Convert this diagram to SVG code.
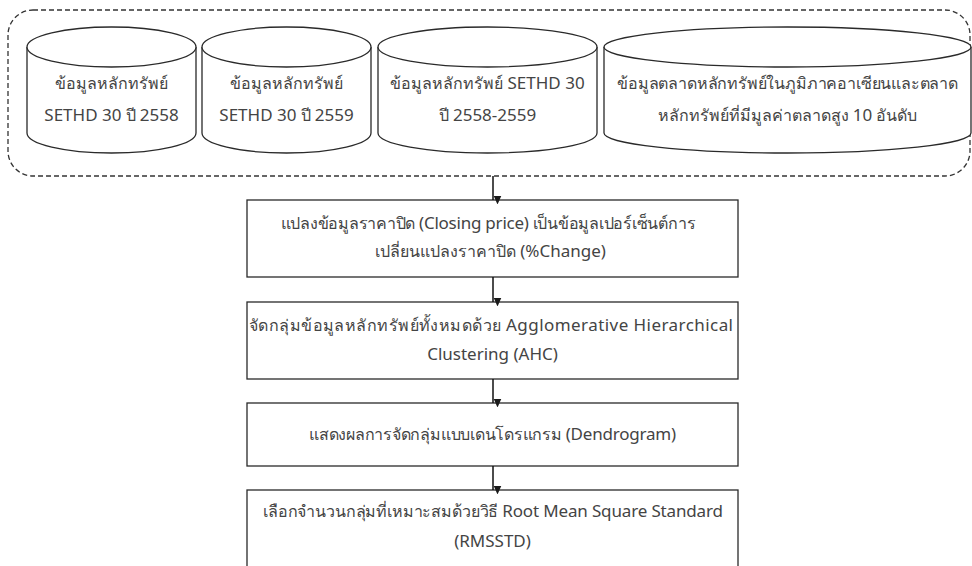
<svg xmlns="http://www.w3.org/2000/svg" width="972" height="566" viewBox="0 0 972 566">
<defs>
<marker id="arr" markerWidth="8" markerHeight="9" refX="4" refY="9" orient="auto-start-reverse" markerUnits="userSpaceOnUse" viewBox="0 0 8 9">
<path d="M0,0 L8,0 L4,9 Z" fill="#1a1a1a" transform="rotate(-90 4 4.5)"/>
</marker>
</defs>
<style>
.t{font-family:"Noto Sans","Liberation Sans",sans-serif;font-size:16px;fill:#444;text-anchor:middle}
.l{font-size:17px}
.s{fill:#fff;stroke:#2a2a2a;stroke-width:1.3}
.c{stroke:#111;stroke-width:1.5;fill:none}
</style>
<rect x="0" y="0" width="972" height="566" fill="#fff"/>
<g id="group">
<rect x="8" y="10" width="962" height="166" rx="25" ry="25" fill="none" stroke="#333" stroke-width="1.3" stroke-dasharray="5,3"/>
</g>
<g id="cyl1">
<path class="s" d="M27,47 A84.5,20 0 0 1 196,47 L196,133 A84.5,20 0 0 1 27,133 Z"/>
<path class="s" fill="none" d="M27,47 A84.5,20 0 0 0 196,47"/>
<text class="t" x="111.5" y="89">ข้อมูลหลักทรัพย์</text>
<text class="t" x="111.5" y="121"><tspan class="l">SETHD 30</tspan> ปี <tspan class="l">2558</tspan></text>
</g>
<g id="cyl2">
<path class="s" d="M202,47 A84.5,20 0 0 1 371,47 L371,133 A84.5,20 0 0 1 202,133 Z"/>
<path class="s" fill="none" d="M202,47 A84.5,20 0 0 0 371,47"/>
<text class="t" x="286.5" y="89">ข้อมูลหลักทรัพย์</text>
<text class="t" x="286.5" y="121"><tspan class="l">SETHD 30</tspan> ปี <tspan class="l">2559</tspan></text>
</g>
<g id="cyl3">
<path class="s" d="M378,47 A109.5,20 0 0 1 597,47 L597,133 A109.5,20 0 0 1 378,133 Z"/>
<path class="s" fill="none" d="M378,47 A109.5,20 0 0 0 597,47"/>
<text class="t" x="487.5" y="89">ข้อมูลหลักทรัพย์ <tspan class="l">SETHD 30</tspan></text>
<text class="t" x="487.5" y="121">ปี <tspan class="l">2558-2559</tspan></text>
</g>
<g id="cyl4">
<path class="s" d="M604,47 A183.5,20 0 0 1 971,47 L971,133 A183.5,20 0 0 1 604,133 Z"/>
<path class="s" fill="none" d="M604,47 A183.5,20 0 0 0 971,47"/>
<text class="t" x="787.5" y="89" textLength="341">ข้อมูลตลาดหลักทรัพย์ในภูมิภาคอาเซียนและตลาด</text>
<text class="t" x="787.5" y="121">หลักทรัพย์ที่มีมูลค่าตลาดสูง <tspan class="l">10</tspan> อันดับ</text>
</g>
<g id="step1">
<rect class="s" x="247" y="200" width="491" height="77"/>
<text class="t" x="488" y="229" textLength="415">แปลงข้อมูลราคาปิด <tspan class="l">(Closing price)</tspan> เป็นข้อมูลเปอร์เซ็นต์การ</text>
<text class="t" x="490.5" y="257">เปลี่ยนแปลงราคาปิด <tspan class="l">(%Change)</tspan></text>
</g>
<g id="step2">
<rect class="s" x="247" y="302" width="491" height="77"/>
<text class="t" x="491" y="331" textLength="484">จัดกลุ่มข้อมูลหลักทรัพย์ทั้งหมดด้วย <tspan class="l">Agglomerative Hierarchical</tspan></text>
<text class="t" x="492.5" y="360"><tspan class="l">Clustering (AHC)</tspan></text>
</g>
<g id="step3">
<rect class="s" x="247" y="403" width="491" height="63"/>
<text class="t" x="492.5" y="440" textLength="367">แสดงผลการจัดกลุ่มแบบเดนโดรแกรม <tspan class="l">(Dendrogram)</tspan></text>
</g>
<g id="step4">
<rect class="s" x="247" y="490" width="491" height="90"/>
<text class="t" x="493" y="517" textLength="460">เลือกจำนวนกลุ่มที่เหมาะสมด้วยวิธี <tspan class="l">Root Mean Square Standard</tspan></text>
<text class="t" x="492.5" y="547"><tspan class="l">(RMSSTD)</tspan></text>
</g>
<g id="connectors">
<line class="c" x1="493" y1="176" x2="493" y2="200" marker-end="url(#arr)"/>
<line class="c" x1="493" y1="277" x2="493" y2="302" marker-end="url(#arr)"/>
<line class="c" x1="493" y1="379" x2="493" y2="403" marker-end="url(#arr)"/>
<line class="c" x1="493" y1="466" x2="493" y2="490" marker-end="url(#arr)"/>
</g>
</svg>
